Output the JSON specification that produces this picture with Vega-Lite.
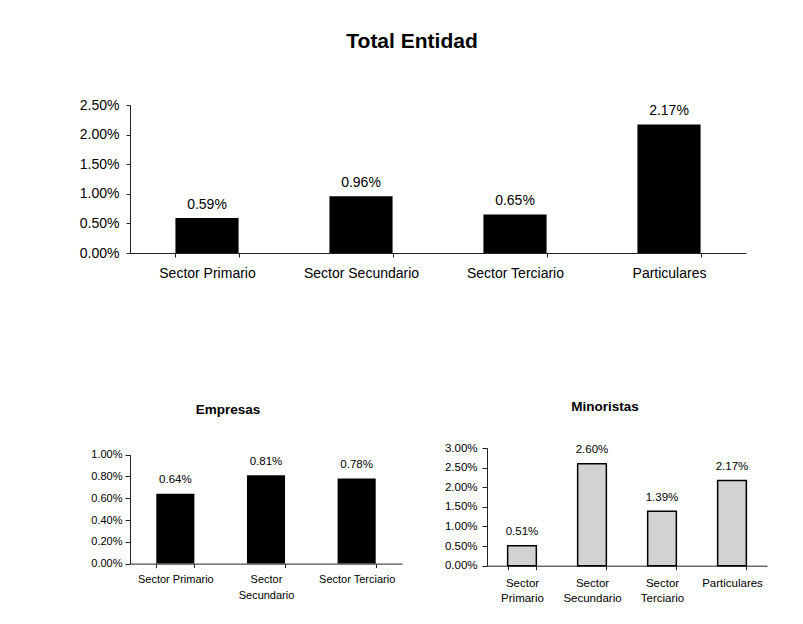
{
  "$schema": "https://vega.github.io/schema/vega-lite/v6.json",
  "background": "white",
  "padding": {"left": 74, "top": 31, "right": 10, "bottom": 10},
  "config": {
    "view": {"stroke": null},
    "font": "Liberation Sans",
    "axis": {"grid": false, "domainColor": "#222", "tickColor": "#222", "labelColor": "#000", "labelFont": "Liberation Sans", "title": null},
    "title": {"font": "Liberation Sans", "color": "#000", "fontWeight": "bold"}
  },
  "datasets": {
    "total": [
      {"sector": "Sector Primario", "value": 0.0059},
      {"sector": "Sector Secundario", "value": 0.0096},
      {"sector": "Sector Terciario", "value": 0.0065},
      {"sector": "Particulares", "value": 0.0217}
    ],
    "empresas": [
      {"sector": "Sector Primario", "value": 0.0064},
      {"sector": "Sector Secundario", "value": 0.0081},
      {"sector": "Sector Terciario", "value": 0.0078}
    ],
    "minoristas": [
      {"sector": "Sector Primario", "value": 0.0051},
      {"sector": "Sector Secundario", "value": 0.026},
      {"sector": "Sector Terciario", "value": 0.0139},
      {"sector": "Particulares", "value": 0.0217}
    ]
  },
  "spacing": 120,
  "vconcat": [
    {
      "data": {"name": "total"},
      "width": 616,
      "height": 148,
      "title": {"text": "Total Entidad", "fontSize": 21, "anchor": "middle", "frame": "group", "dx": -26, "offset": 46},
      "encoding": {
        "x": {"field": "sector", "type": "nominal", "sort": null,
          "scale": {"paddingInner": 0.59, "paddingOuter": 0.295},
          "axis": {"labelAngle": 0, "labelFontSize": 14, "tickBand": "extent", "tickSize": 4, "labelPadding": 9}},
        "y": {"field": "value", "type": "quantitative",
          "scale": {"domain": [0, 0.025], "nice": false},
          "axis": {"values": [0, 0.005, 0.01, 0.015, 0.02, 0.025], "format": ".2%", "labelFontSize": 14, "tickSize": 4, "labelPadding": 7}}
      },
      "layer": [
        {"mark": {"type": "bar", "color": "#000"}},
        {"mark": {"type": "text", "baseline": "alphabetic", "dy": -9.5, "fontSize": 14, "color": "#000"},
          "encoding": {"text": {"field": "value", "type": "quantitative", "format": ".2%"}}}
      ]
    },
    {
      "spacing": 42,
      "hconcat": [
        {
          "data": {"name": "empresas"},
          "width": 272,
          "height": 115.6,
          "title": {"text": "Empresas", "fontSize": 13.5, "anchor": "middle", "frame": "group", "dx": -38, "offset": 32},
          "encoding": {
            "x": {"field": "sector", "type": "nominal", "sort": null,
              "scale": {"paddingInner": 0.58, "paddingOuter": 0.29},
              "axis": {"labelAngle": 0, "labelFontSize": 11, "tickBand": "extent", "tickSize": 4, "labelPadding": 6, "labelLineHeight": 15.5, "labelBaseline": "top",
                "labelExpr": "datum.label == 'Sector Secundario' ? ['Sector', 'Secundario'] : datum.label"}},
            "y": {"field": "value", "type": "quantitative",
              "scale": {"domain": [0, 0.01], "nice": false, "range": [115.6, 6.6]},
              "axis": {"values": [0, 0.002, 0.004, 0.006, 0.008, 0.01], "format": ".2%", "labelFontSize": 11, "tickSize": 5, "labelPadding": 3, "minExtent": 56}}
          },
          "layer": [
            {"mark": {"type": "bar", "color": "#000"}},
            {"mark": {"type": "text", "baseline": "alphabetic", "dy": -10.4, "fontSize": 11.5, "color": "#000"},
              "encoding": {"text": {"field": "value", "type": "quantitative", "format": ".2%"}}}
          ]
        },
        {
          "data": {"name": "minoristas"},
          "width": 280,
          "height": 117.7,
          "title": {"text": "Minoristas", "fontSize": 13.5, "anchor": "middle", "frame": "group", "dx": -22, "offset": 28.5},
          "encoding": {
            "x": {"field": "sector", "type": "nominal", "sort": null,
              "scale": {"paddingInner": 0.59, "paddingOuter": 0.295},
              "axis": {"labelAngle": 0, "labelFontSize": 11.5, "tickBand": "extent", "tickSize": 4, "labelPadding": 7.5, "labelLineHeight": 15, "labelBaseline": "top",
                "labelExpr": "indexof(datum.label, 'Sector') == 0 ? split(datum.label, ' ') : datum.label"}},
            "y": {"field": "value", "type": "quantitative",
              "scale": {"domain": [0, 0.03], "nice": false},
              "axis": {"values": [0, 0.005, 0.01, 0.015, 0.02, 0.025, 0.03], "format": ".2%", "labelFontSize": 11.5, "tickSize": 5, "labelPadding": 5, "minExtent": 43}}
          },
          "layer": [
            {"mark": {"type": "bar", "fill": "#d2d2d2", "stroke": "#000", "strokeWidth": 1.5}},
            {"mark": {"type": "text", "baseline": "alphabetic", "dy": -10.4, "fontSize": 11.5, "color": "#000"},
              "encoding": {"text": {"field": "value", "type": "quantitative", "format": ".2%"}}}
          ]
        }
      ]
    }
  ]
}
